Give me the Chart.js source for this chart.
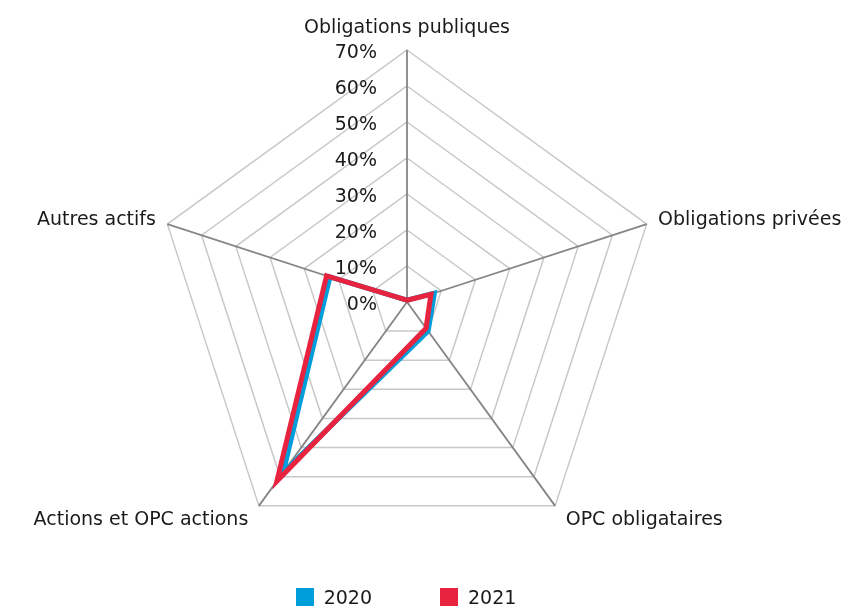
<!DOCTYPE html>
<html>
<head>
<meta charset="utf-8">
<script src="https://cdn.jsdelivr.net/npm/chart.js@4/dist/chart.umd.min.js"></script>
<style>
  html, body { margin: 0; padding: 0; background: #fff; }
  #wrap { position: relative; width: 863px; height: 610px; }
  #legend { position: absolute; left: 0; right: 51px; top: 586px; display: flex; justify-content: center; gap: 68px;
    font: 19px "DejaVu Sans", sans-serif; color: #1a1a1a; }
  #legend span.item { display: flex; align-items: center; }
  #legend i { display: inline-block; width: 18px; height: 18px; margin-right: 10px; }
</style>
</head>
<body>
<div id="wrap">
  <canvas id="radar" width="863" height="610"></canvas>
  <div id="legend"></div>
</div>
<script>
const categories = ['Obligations publiques', 'Obligations privées', 'OPC obligataires', 'Actions et OPC actions', 'Autres actifs'];
const values2020 = [0.5, 8, 10, 58.5, 22.5];
const values2021 = [0.5, 7, 9, 61.5, 23.5];
const seriesNames = ['2020', '2021'];
const seriesColors = ['#009ddb', '#e8233f'];
const tickMax = 70;
const tickStep = 10;

const FONT = '"DejaVu Sans", sans-serif';
const LABEL_PAD = 12;
const LABEL_PAD_BOTTOM = 18;

// tick labels to the left of the vertical axis, right aligned
const tickLabels = {
  id: 'tickLabels',
  beforeDatasetsDraw(chart) {
    const scale = chart.scales.r;
    const ctx = chart.ctx;
    ctx.save();
    ctx.font = '19px ' + FONT;
    ctx.fillStyle = '#1a1a1a';
    ctx.textAlign = 'right';
    ctx.textBaseline = 'middle';
    scale.ticks.forEach(t => {
      const d = scale.getDistanceFromCenterForValue(t.value);
      ctx.fillText(t.value + '%', scale.xCenter - 30, scale.yCenter - d + 3);
    });
    ctx.restore();
  }
};

// category labels just outside each corner; side ones centred on the corner
const cornerLabels = {
  id: 'cornerLabels',
  afterDraw(chart) {
    const scale = chart.scales.r;
    const ctx = chart.ctx;
    ctx.save();
    ctx.font = '19px ' + FONT;
    ctx.fillStyle = '#1a1a1a';
    categories.forEach((name, i) => {
      let p = scale.getPointPosition(i, scale.drawingArea + LABEL_PAD);
      if (p.y > scale.yCenter + scale.drawingArea / 2) {
        p = scale.getPointPosition(i, scale.drawingArea + LABEL_PAD_BOTTOM);
      }
      const dx = p.x - scale.xCenter;
      ctx.textAlign = Math.abs(dx) < 2 ? 'center' : (dx > 0 ? 'left' : 'right');
      ctx.textBaseline = (Math.abs(dx) < 2 && p.y < scale.yCenter) ? 'bottom' : 'middle';
      ctx.fillText(name, p.x, p.y);
    });
    ctx.restore();
  }
};

const chart = new Chart(document.getElementById('radar'), {
  type: 'radar',
  data: {
    labels: categories,
    datasets: [
      { label: seriesNames[0], data: values2020, borderColor: seriesColors[0], backgroundColor: seriesColors[0],
        borderWidth: 5, fill: false, pointRadius: 0, order: 2 },
      { label: seriesNames[1], data: values2021, borderColor: seriesColors[1], backgroundColor: seriesColors[1],
        borderWidth: 5, fill: false, pointRadius: 0, order: 1 }
    ]
  },
  options: {
    responsive: false,
    animation: false,
    layout: { padding: { top: 50, left: 155, right: 204, bottom: 56 } },
    plugins: { legend: { display: false }, tooltip: { enabled: false } },
    scales: {
      r: {
        min: 0,
        max: tickMax,
        ticks: { stepSize: tickStep, display: false },
        grid: { color: '#c8c8c8', lineWidth: 1.5 },
        angleLines: { color: '#858585', lineWidth: 1.8 },
        pointLabels: { display: false }
      }
    }
  },
  plugins: [tickLabels, cornerLabels]
});

const legendEl = document.getElementById('legend');
seriesNames.forEach((name, i) => {
  const item = document.createElement('span');
  item.className = 'item';
  item.innerHTML = `<i style="background:${seriesColors[i]}"></i>${name}`;
  legendEl.appendChild(item);
});
</script>
</body>
</html>
